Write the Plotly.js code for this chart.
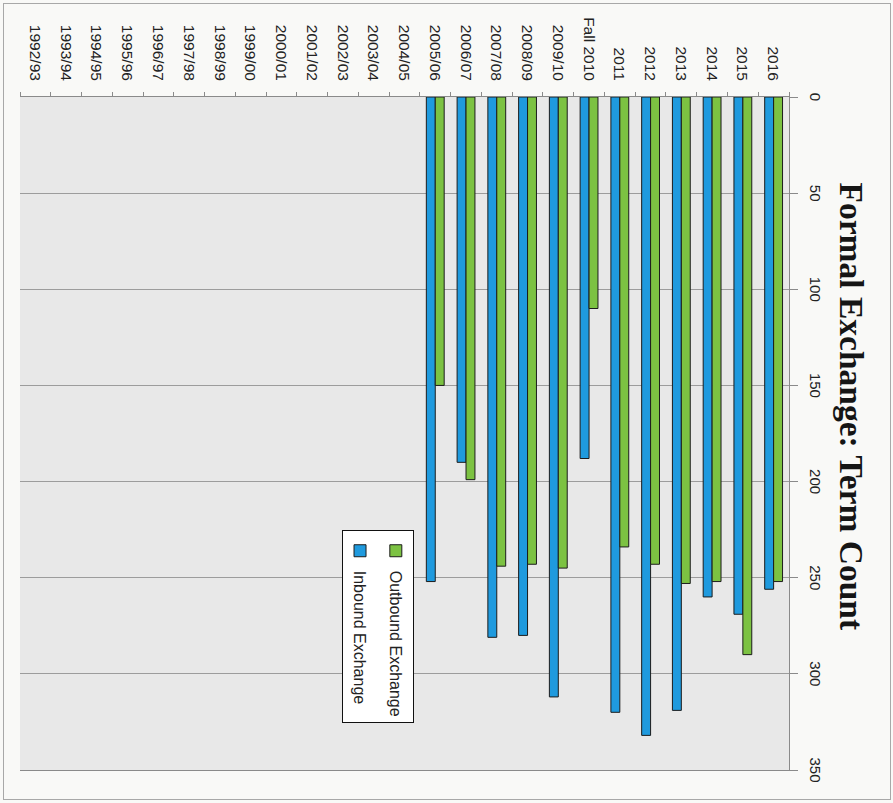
<!DOCTYPE html>
<html>
<head>
<meta charset="utf-8">
<script src="https://cdn.plot.ly/plotly-3.0.1.min.js"></script>
<style>
  html, body { margin: 0; padding: 0; width: 893px; height: 803px; overflow: hidden; background: #f7f7f5; }
  #frame { position: absolute; left: 0; top: 0; width: 803px; height: 893px;
           transform-origin: 0 0; transform: translateX(893px) rotate(90deg); }
  #chart { position: absolute; left: 0; top: 0; width: 803px; height: 893px; }
  #border { position: absolute; left: 3px; top: 2px; width: 795px; height: 886px;
            border: 1px solid #a8a8a8; pointer-events: none; }
</style>
</head>
<body>
<div id="frame">
  <div id="chart"></div>
  <div id="border"></div>
</div>
<script>
const categories = ["1992/93","1993/94","1994/95","1995/96","1996/97","1997/98","1998/99","1999/00",
  "2000/01","2001/02","2002/03","2003/04","2004/05","2005/06","2006/07","2007/08","2008/09","2009/10",
  "Fall 2010","2011","2012","2013","2014","2015","2016"];
const inbound  = [null,null,null,null,null,null,null,null,null,null,null,null,null,
  252,190,281,280,312,188,320,332,319,260,269,256];
const outbound = [null,null,null,null,null,null,null,null,null,null,null,null,null,
  150,199,244,243,245,110,234,243,253,252,290,252];
const valueTicks = [0,50,100,150,200,250,300,350];

const traces = [
  { type: 'bar', orientation: 'h', name: 'Inbound Exchange', y: categories, x: inbound,
    legendgroup: 'a', legendrank: 2,
    marker: { color: '#1f9ade', line: { color: '#1c1c1c', width: 1 } } },
  { type: 'bar', orientation: 'h', name: 'Outbound Exchange', y: categories, x: outbound,
    legendgroup: 'b', legendrank: 1,
    marker: { color: '#7cc242', line: { color: '#1c1c1c', width: 1 } } }
];

const layout = {
  width: 803, height: 893,
  margin: { l: 97, r: 33, t: 104, b: 20 },
  paper_bgcolor: '#f9f9f7',
  plot_bgcolor: '#e8e8e8',
  barmode: 'group',
  bargap: 0.42,
  bargroupgap: 0,
  showlegend: true,
  title: {
    text: 'Formal Exchange: Term Count',
    font: { family: '"Liberation Serif", "DejaVu Serif", serif', size: 33.5, color: '#151515', weight: 'bold' },
    xref: 'container', x: 0.506, xanchor: 'center',
    yref: 'container', y: 0.954, yanchor: 'middle'
  },
  xaxis: {
    side: 'top',
    range: [0, 350],
    tickvals: valueTicks,
    ticktext: valueTicks.map(String),
    showgrid: true, gridcolor: '#9c9c9c', gridwidth: 1,
    zeroline: false,
    showline: true, linecolor: '#8a8a8a', linewidth: 1,
    ticks: 'outside', ticklen: 8, tickcolor: '#8a8a8a',
    ticklabelstandoff: 6,
    tickfont: { family: '"Liberation Sans", Arial, sans-serif', size: 15, color: '#222' },
    fixedrange: true
  },
  yaxis: {
    type: 'category',
    categoryorder: 'array', categoryarray: categories,
    showgrid: false, zeroline: false,
    showline: true, linecolor: '#8a8a8a', linewidth: 1, mirror: true,
    ticks: 'outside', ticklen: 4, tickcolor: '#8a8a8a', tickson: 'boundaries',
    ticklabelstandoff: 12,
    tickfont: { family: '"Liberation Sans", Arial, sans-serif', size: 15.5, color: '#222' },
    fixedrange: true
  },
  legend: {
    x: 0.643, xanchor: 'left',
    y: 0.512, yanchor: 'top',
    traceorder: 'grouped',
    tracegroupgap: 12,
    bgcolor: '#ffffff', bordercolor: '#111', borderwidth: 1,
    font: { family: '"Liberation Sans", Arial, sans-serif', size: 16, color: '#222' }
  }
};

Plotly.newPlot('chart', traces, layout, { displayModeBar: false, staticPlot: true });
</script>
</body>
</html>
